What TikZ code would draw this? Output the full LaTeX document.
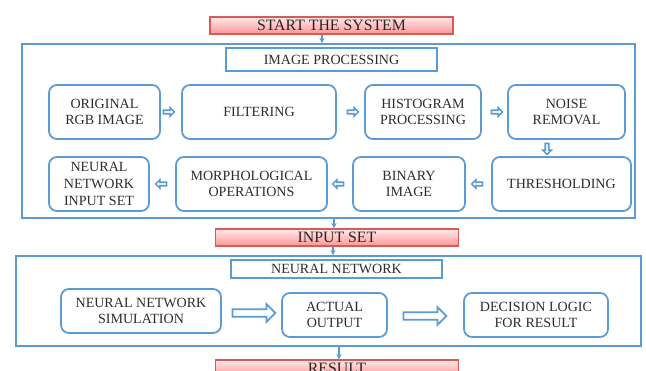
\documentclass[tikz,border=0pt]{standalone}
\usepackage{fontspec}
\setmainfont{Liberation Serif}
\usetikzlibrary{shapes.arrows,arrows.meta}
\definecolor{frameblue}{RGB}{91,155,213}
\definecolor{barred}{RGB}{214,92,90}
\definecolor{txtgray}{RGB}{45,45,45}
\begin{document}
\begin{tikzpicture}[x=0.02cm,y=-0.02cm,>={Stealth[length=3pt,width=3pt]},
    procbox/.style={draw=frameblue,line width=1pt,rounded corners=4.5pt,
      align=center,text=txtgray,font=\fontsize{8}{9.5}\selectfont,inner sep=1pt},
    headbox/.style={draw=frameblue,line width=1pt,text=txtgray,
      font=\fontsize{8}{9.5}\selectfont,inner sep=1pt},
    redbar/.style={draw=barred,line width=0.8pt,top color=red!8,bottom color=red!42,
      text=black!85,font=\fontsize{9}{10}\selectfont,inner sep=1pt,
      minimum width=4.86cm,minimum height=0.34cm},
    frame/.style={draw=frameblue,line width=1pt,inner sep=0pt},
    smallflow/.style={single arrow,draw=frameblue,line width=0.9pt,fill=white,
      minimum height=0.22cm,minimum width=0.17cm,single arrow head extend=1.2pt,inner sep=0.4pt},
    bigflow/.style={single arrow,draw=frameblue,line width=1pt,fill=white,
      minimum height=0.86cm,minimum width=0.36cm,single arrow head extend=2pt,inner sep=1pt},
    dotarrow/.style={->,draw=frameblue,line width=1.2pt}]
  \useasboundingbox (0,0) rectangle (646,371);
  \clip (0,0) rectangle (646,371);
  % bars
  \node[redbar] (start) at (331.5,25.5) {START THE SYSTEM};
  \node[redbar] (inset) at (337,237.5) {INPUT SET};
  \node[redbar] (result) at (337,368.5) {RESULT};
  % image processing block
  \node[frame,minimum width=12.26cm,minimum height=3.48cm] (framea) at (328.5,131) {};
  \node[headbox,minimum width=4.22cm,minimum height=0.46cm] (improc) at (331.5,59.5) {IMAGE PROCESSING};
  \node[procbox,minimum width=2.22cm,minimum height=1.08cm] (orig) at (104.5,112) {ORIGINAL\\RGB IMAGE};
  \node[procbox,minimum width=3.08cm,minimum height=1.08cm] (filt) at (259,112) {FILTERING};
  \node[procbox,minimum width=2.32cm,minimum height=1.08cm] (hist) at (423,112) {HISTOGRAM\\PROCESSING};
  \node[procbox,minimum width=2.34cm,minimum height=1.08cm] (noise) at (566.5,112) {NOISE\\REMOVAL};
  \node[procbox,minimum width=2.78cm,minimum height=1.08cm] (thresh) at (561.5,184) {THRESHOLDING};
  \node[procbox,minimum width=2.24cm,minimum height=1.08cm] (binary) at (409,184) {BINARY\\IMAGE};
  \node[procbox,minimum width=3.02cm,minimum height=1.08cm] (morph) at (251.5,184) {MORPHOLOGICAL\\OPERATIONS};
  \node[procbox,minimum width=2.0cm,minimum height=1.08cm] (nnin) at (99,184) {NEURAL\\NETWORK\\INPUT SET};
  \node[smallflow] (fa) at (168,112) {};
  \node[smallflow] (fb) at (352,112) {};
  \node[smallflow] (fc) at (496,112) {};
  \node[smallflow,rotate=-90] (fd) at (547,148) {};
  \node[smallflow,rotate=180] (fe) at (478,184) {};
  \node[smallflow,rotate=180] (ff) at (339,184) {};
  \node[smallflow,rotate=180] (fg) at (162,184) {};
  % neural network block
  \node[frame,minimum width=12.5cm,minimum height=1.8cm] (frameb) at (328.5,301) {};
  \node[headbox,minimum width=4.22cm,minimum height=0.36cm] (nnhead) at (336.5,269) {NEURAL NETWORK};
  \node[procbox,minimum width=3.2cm,minimum height=0.88cm] (sim) at (141,311) {NEURAL NETWORK\\SIMULATION};
  \node[procbox,minimum width=2.1cm,minimum height=0.88cm] (actual) at (334.5,315) {ACTUAL\\OUTPUT};
  \node[procbox,minimum width=2.88cm,minimum height=0.88cm] (decide) at (536,315) {DECISION LOGIC\\FOR RESULT};
  \node[bigflow] (ga) at (252,313) {};
  \node[bigflow] (gb) at (423,316) {};
  % links between stages
  \draw[dotarrow] ([xshift=-0.19cm]start.south) -- ([xshift=-0.19cm]start.south |- framea.north);
  \draw[dotarrow] ([xshift=-0.06cm]framea.south -| inset.north) -- ([xshift=-0.06cm]inset.north);
  \draw[dotarrow] ([xshift=-0.08cm]inset.south) -- ([xshift=-0.08cm]inset.south |- frameb.north);
  \draw[dotarrow] ([xshift=0.04cm]frameb.south -| result.north) -- ([xshift=0.04cm]result.north);
\end{tikzpicture}
\end{document}
